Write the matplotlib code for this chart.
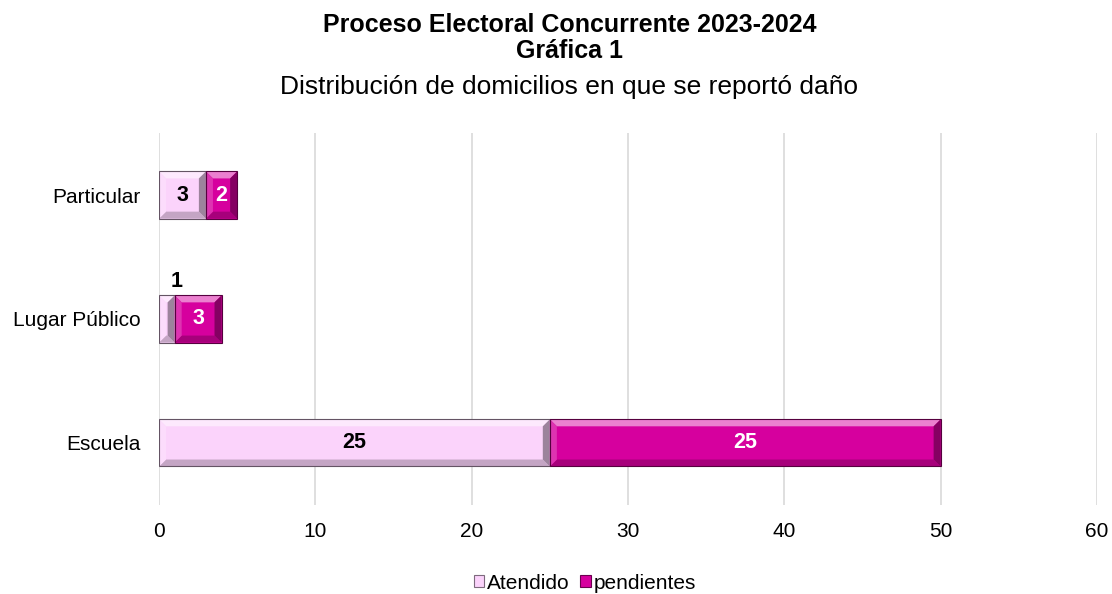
import numpy as np
import matplotlib.pyplot as plt
from matplotlib.patches import Polygon
from matplotlib.colors import to_rgb

plt.rcParams['font.family'] = ['Liberation Sans', 'DejaVu Sans']

# data
categorias = ['Escuela', 'Lugar Público', 'Particular']
atendido = [25, 1, 3]
pendientes = [25, 3, 2]
series = ['Atendido', 'pendientes']
ticks_x = [0, 10, 20, 30, 40, 50, 60]

col_at = '#FBD3FB'
col_pe = '#D6009E'


def shade(c, f):
    r = np.array(to_rgb(c))
    if f >= 0:
        return tuple(r + (1 - r) * f)
    return tuple(r * (1 + f))


def bevel(ax, patch, color, bx, by):
    # bevelled look like the office "soft edge" bars
    x0, y0 = patch.get_x(), patch.get_y()
    w, h = patch.get_width(), patch.get_height()
    bx = min(bx, w * 0.45)
    x1, y1 = x0 + w, y0 + h
    top = [(x0, y1), (x1, y1), (x1 - bx, y1 - by), (x0 + bx, y1 - by)]
    bot = [(x0, y0), (x1, y0), (x1 - bx, y0 + by), (x0 + bx, y0 + by)]
    left = [(x0, y0), (x0, y1), (x0 + bx, y1 - by), (x0 + bx, y0 + by)]
    right = [(x1, y0), (x1, y1), (x1 - bx, y1 - by), (x1 - bx, y0 + by)]
    for pts, f in [(top, 0.5), (bot, -0.22), (left, 0.2), (right, -0.38)]:
        ax.add_patch(Polygon(pts, closed=True, facecolor=shade(color, f),
                             edgecolor='none', zorder=3))
    ax.add_patch(plt.Rectangle((x0, y0), w, h, facecolor='none',
                               edgecolor=shade(color, -0.6), lw=0.8, zorder=4))


fig = plt.figure(figsize=(11.12, 5.94), dpi=100)
ax = fig.add_axes([0.143, 0.150, 0.8435, 0.626])

y = np.arange(len(categorias))
h = 0.38
b1 = ax.barh(y, atendido, height=h, color=col_at, zorder=2, label=series[0])
b2 = ax.barh(y, pendientes, left=atendido, height=h, color=col_pe, zorder=2, label=series[1])

for p in b1:
    bevel(ax, p, col_at, 0.45, 0.056)
for p in b2:
    bevel(ax, p, col_pe, 0.45, 0.056)

for i, p in enumerate(b1):
    cx = p.get_x() + p.get_width() / 2
    cy = p.get_y() + p.get_height() / 2
    if atendido[i] < 2:
        ax.text(cx + 0.6, p.get_y() + p.get_height() + 0.03, str(atendido[i]),
                ha='center', va='bottom', fontsize=15.5, fontweight='bold', color='black', zorder=5)
    else:
        ax.text(cx, cy, str(atendido[i]), ha='center', va='center',
                fontsize=15.5, fontweight='bold', color='black', zorder=5)
for i, p in enumerate(b2):
    cx = p.get_x() + p.get_width() / 2
    cy = p.get_y() + p.get_height() / 2
    ax.text(cx, cy, str(pendientes[i]), ha='center', va='center',
            fontsize=15.5, fontweight='bold', color='white', zorder=5)

ax.set_xlim(0, 60)
ax.set_ylim(-0.5, 2.5)
ax.set_xticks(ticks_x)
ax.set_yticks(y)
ax.set_yticklabels(categorias)
ax.tick_params(axis='both', length=0, labelsize=15, colors='black')
ax.tick_params(axis='x', pad=12)
ax.tick_params(axis='y', pad=13.5)
ax.grid(axis='x', color='#D9D9D9', lw=1.2, zorder=0)
ax.set_axisbelow(True)
for s in ax.spines.values():
    s.set_visible(False)

fig.text(0.512, 0.958, 'Proceso Electoral Concurrente 2023-2024', ha='center', va='center',
         fontsize=18, fontweight='bold')
fig.text(0.512, 0.914, 'Gráfica 1', ha='center', va='center', fontsize=18, fontweight='bold')
fig.text(0.512, 0.853, 'Distribución de domicilios en que se reportó daño', ha='center',
         va='center', fontsize=19)

leg = fig.legend(handles=[b1, b2], labels=series, loc='center', bbox_to_anchor=(0.526, 0.018),
                 ncol=2, frameon=False, fontsize=15, handlelength=0.5, handleheight=0.5,
                 handletextpad=0.15, columnspacing=0.5)
for hnd, c in zip(leg.legend_handles, [col_at, col_pe]):
    hnd.set_edgecolor(shade(c, -0.5))
    hnd.set_linewidth(0.8)

fig.savefig('out.png', dpi=100)
